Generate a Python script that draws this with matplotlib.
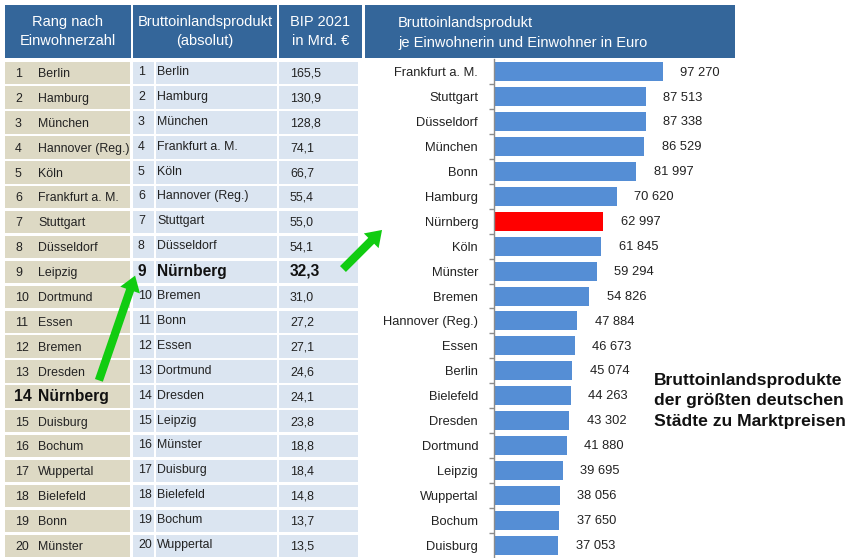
import matplotlib
matplotlib.use("Agg")
import matplotlib.pyplot as plt
from matplotlib.patches import Rectangle, FancyArrowPatch

# ---------------- data ----------------
pop_rank_cities = ["Berlin", "Hamburg", "München", "Hannover (Reg.)", "Köln",
                   "Frankfurt a. M.", "Stuttgart", "Düsseldorf", "Leipzig", "Dortmund",
                   "Essen", "Bremen", "Dresden", "Nürnberg", "Duisburg",
                   "Bochum", "Wuppertal", "Bielefeld", "Bonn", "Münster"]
gdp_rank_cities = ["Berlin", "Hamburg", "München", "Frankfurt a. M.", "Köln",
                   "Hannover (Reg.)", "Stuttgart", "Düsseldorf", "Nürnberg", "Bremen",
                   "Bonn", "Essen", "Dortmund", "Dresden", "Leipzig",
                   "Münster", "Duisburg", "Bielefeld", "Bochum", "Wuppertal"]
gdp_bn = [165.5, 130.9, 128.8, 74.1, 66.7, 55.4, 55.0, 54.1, 32.3, 31.0,
          27.2, 27.1, 24.6, 24.1, 23.8, 18.8, 18.4, 14.8, 13.7, 13.5]
pc_cities = ["Frankfurt a. M.", "Stuttgart", "Düsseldorf", "München", "Bonn",
             "Hamburg", "Nürnberg", "Köln", "Münster", "Bremen",
             "Hannover (Reg.)", "Essen", "Berlin", "Bielefeld", "Dresden",
             "Dortmund", "Leipzig", "Wuppertal", "Bochum", "Duisburg"]
pc_values = [97270, 87513, 87338, 86529, 81997, 70620, 62997, 61845, 59294, 54826,
             47884, 46673, 45074, 44263, 43302, 41880, 39695, 38056, 37650, 37053]
highlight = "Nürnberg"

headers = ["Rang nach\nEinwohnerzahl", "Bruttoinlandsprodukt\n(absolut)",
           "BIP 2021\nin Mrd. €", "Bruttoinlandsprodukt\nje Einwohnerin und Einwohner in Euro"]
side_note = "Bruttoinlandsprodukte\nder größten deutschen\nStädte zu Marktpreisen"

# ---------------- style ----------------
NARROW = ["Liberation Sans Narrow", "Liberation Sans", "DejaVu Sans"]
ARIAL = ["Liberation Sans", "DejaVu Sans"]
HEAD = "#34669A"
BEIGE = "#DDD9C4"
LBLUE = "#DBE5F1"
BAR = "#558ED5"
RED = "#FF0000"
GREEN = "#11CC11"
TXT = "#222222"
FS_TAB = 8.9
FS_HEAD = 10.5
FS_BAR = 9.3

W, H = 852, 558
fig = plt.figure(figsize=(W / 100, H / 100), dpi=100)
fig.patch.set_facecolor("white")

ax0 = fig.add_axes([0, 0, 1, 1])
ax0.set_xlim(0, W)
ax0.set_ylim(H, 0)
ax0.axis("off")

# header cells
hdr_cols = [(5, 131), (133, 277), (279, 362), (365, 735)]
for (x0, x1), txt, k in zip(hdr_cols, headers, range(4)):
    ax0.add_patch(Rectangle((x0, 5), x1 - x0, 53, color=HEAD, lw=0))
    if k < 3:
        ax0.text((x0 + x1) / 2, 31.5, txt, ha="center", va="center", color="white",
                 fontsize=FS_HEAD, family=NARROW, linespacing=1.5)
    else:
        ax0.text(398, 33, txt, ha="left", va="center", color="white",
                 fontsize=FS_HEAD, family=NARROW, linespacing=1.5)

# table rows
row0, dy = 60.5, 24.9
for i in range(20):
    top = row0 + i * dy
    yc = top + dy / 2
    ax0.add_patch(Rectangle((5, top + 1), 125, dy - 2.5, color=BEIGE, lw=0))
    ax0.add_patch(Rectangle((133, top + 1), 21, dy - 2.5, color=LBLUE, lw=0))
    ax0.add_patch(Rectangle((156, top + 1), 121, dy - 2.5, color=LBLUE, lw=0))
    ax0.add_patch(Rectangle((279, top + 1), 79, dy - 2.5, color=LBLUE, lw=0))
    # left column
    c = pop_rank_cities[i]
    if c == highlight:
        ax0.text(14, yc, f"{i + 1}", ha="left", va="center", fontsize=11.3,
                 fontweight="bold", family=ARIAL, color="#111111")
        ax0.text(38, yc, c, ha="left", va="center", fontsize=11.3,
                 fontweight="bold", family=ARIAL, color="#111111")
    else:
        ax0.text(15, yc + 1, f"{i + 1}", ha="left", va="center", fontsize=FS_TAB,
                 family=NARROW, color=TXT)
        ax0.text(38, yc + 1, c, ha="left", va="center", fontsize=FS_TAB,
                 family=NARROW, color=TXT)
    # middle columns
    c2 = gdp_rank_cities[i]
    val = f"{gdp_bn[i]:.1f}".replace(".", ",")
    if c2 == highlight:
        ax0.text(138, yc - 1, f"{i + 1}", ha="left", va="center", fontsize=11.2,
                 fontweight="bold", family=ARIAL, color="#111111")
        ax0.text(157, yc - 1, c2, ha="left", va="center", fontsize=11.2,
                 fontweight="bold", family=ARIAL, color="#111111")
        ax0.text(290, yc - 1, val, ha="left", va="center", fontsize=11.2,
                 fontweight="bold", family=ARIAL, color="#111111")
    else:
        ax0.text(138, yc - 1, f"{i + 1}", ha="left", va="center", fontsize=FS_TAB,
                 family=NARROW, color=TXT)
        ax0.text(157, yc - 1, c2, ha="left", va="center", fontsize=FS_TAB,
                 family=NARROW, color=TXT)
        ax0.text(290, yc + 0.5, val, ha="left", va="center", fontsize=FS_TAB,
                 family=NARROW, color=TXT)

# green arrows
for (xa, ya), (xb, yb) in [((98, 383), (136, 273)), ((341, 271), (384, 228))]:
    ax0.add_patch(FancyArrowPatch((xa, ya), (xb, yb),
                                  arrowstyle="simple,head_width=1.5,head_length=1.1,tail_width=0.6",
                                  mutation_scale=10, color=GREEN, lw=0))

# side note
ax0.text(654, 401, side_note, ha="left", va="center", fontsize=12.6,
         fontweight="bold", family=ARIAL, color="#111111", linespacing=1.45)

# ---------------- bar chart ----------------
px_per_unit = (663 - 494) / 97270
ax = fig.add_axes([494 / W, 0.5 / H, (W - 494) / W, 498 / H])
ax.set_xlim(0, (W - 494) / px_per_unit)
ax.set_ylim(19.5, -0.5)
ypos = list(range(len(pc_values)))
colors = [RED if c == highlight else BAR for c in pc_cities]
ax.barh(ypos, pc_values, height=0.76, color=colors, lw=0)
ax.set_facecolor("none")
for s in ["top", "right", "bottom"]:
    ax.spines[s].set_visible(False)
ax.spines["left"].set_color("#8C8C8C")
ax.spines["left"].set_linewidth(1.0)
ax.set_xticks([])
ax.set_yticks(ypos)
ax.set_yticklabels(pc_cities, fontsize=FS_BAR, family=NARROW, color=TXT)
ax.tick_params(axis="y", which="major", length=0, pad=11.5)
ax.set_yticks([p + 0.5 for p in ypos[:-1]], minor=True)
ax.tick_params(axis="y", which="minor", length=3.5, width=1, color="#8C8C8C")
for y, v in zip(ypos, pc_values):
    ax.annotate(f"{v:,}".replace(",", " "), (v, y), xytext=(12.5, -0.5),
                textcoords="offset points", ha="left", va="center",
                fontsize=FS_BAR, family=NARROW, color=TXT)

fig.savefig("out.png", dpi=100, facecolor="white")
